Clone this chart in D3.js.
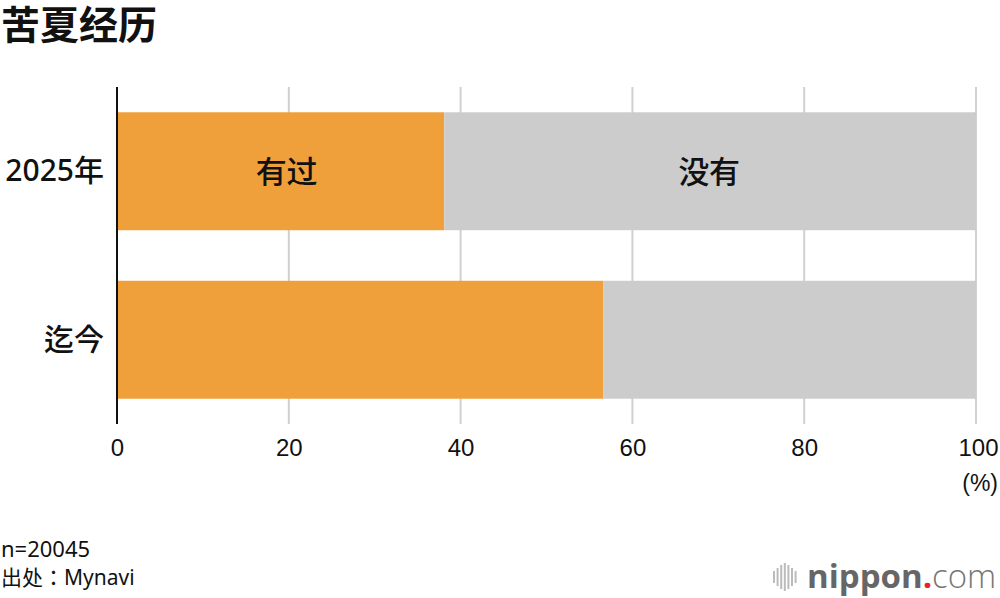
<!DOCTYPE html>
<html><head><meta charset="utf-8">
<script src="https://cdn.jsdelivr.net/npm/d3@7"></script>
<style>body{margin:0;background:#fff}svg{display:block}</style>
</head><body>
<script>
const categories = ["2025年", "迄今"];
const seriesNames = ["有过", "没有"];
const hadValues = [38.1, 56.6];
const noValues = [61.9, 43.4];
const ticks = [0, 20, 40, 60, 80, 100];
const colors = ["#F0A03A", "#CCCCCC"];

const W = 1000, H = 598;
const svg = d3.select("body").append("svg").attr("width", W).attr("height", H);
const font = "'Noto Sans','Noto Sans CJK JP',sans-serif";
const cjk = "'Noto Sans CJK JP','Noto Sans CJK SC',sans-serif";

const x = d3.scaleLinear().domain([0, 100]).range([117, 976]);
const y = d3.scaleBand().domain(categories).range([87, 424]).paddingInner(0.3).paddingOuter(0.15);

// gridlines
svg.append("g").selectAll("line").data(ticks.slice(1)).join("line")
  .attr("x1", d => x(d)).attr("x2", d => x(d)).attr("y1", 87).attr("y2", 424)
  .attr("stroke", "#d0d0d0").attr("stroke-width", 2);

const stacked = categories.map((c, i) => ({c, vals: [hadValues[i], noValues[i]]}));
stacked.forEach(s => {
  let acc = 0;
  s.vals.forEach((v, j) => {
    svg.append("rect").attr("x", x(acc)).attr("width", x(acc + v) - x(acc))
      .attr("y", y(s.c)).attr("height", y.bandwidth()).attr("fill", colors[j]);
    acc += v;
  });
});

// series labels in first bar
const first = stacked[0];
const lblY = y(first.c) + y.bandwidth() / 2 + 12;
svg.append("text").attr("x", x(first.vals[0] / 2) + 6).attr("y", lblY)
  .attr("text-anchor", "middle").attr("font-family", cjk).attr("font-size", 31).attr("font-weight", 500)
  .attr("fill", "#111").text(seriesNames[0]);
svg.append("text").attr("x", x(first.vals[0] + first.vals[1] / 2) - 1).attr("y", lblY)
  .attr("text-anchor", "middle").attr("font-family", cjk).attr("font-size", 31).attr("font-weight", 500)
  .attr("fill", "#111").text(seriesNames[1]);

// y axis line
svg.append("line").attr("x1", x(0)).attr("x2", x(0)).attr("y1", 87).attr("y2", 424)
  .attr("stroke", "#111").attr("stroke-width", 2);

// category labels
svg.append("g").selectAll("text").data(categories).join("text")
  .attr("x", 104).attr("y", d => y(d) + y.bandwidth() / 2 + 10)
  .attr("text-anchor", "end").attr("font-family", font).attr("font-size", 30).attr("font-weight", 500)
  .attr("fill", "#111").text(d => d);

// x tick labels
const xAxis = svg.append("g").attr("transform", "translate(0,424)")
  .call(d3.axisBottom(x).tickValues(ticks).tickSize(0).tickPadding(15));
xAxis.select(".domain").remove();
xAxis.selectAll("text").attr("font-family", "'Liberation Sans',Arial,sans-serif").attr("font-size", 24).attr("fill", "#111");
xAxis.selectAll(".tick").filter(d => d === 100).select("text").attr("text-anchor", "end").attr("dx", 22);
svg.append("text").attr("x", 998).attr("y", 491).attr("text-anchor", "end")
  .attr("font-family", "'Liberation Sans',Arial,sans-serif").attr("font-size", 23).attr("fill", "#111").text("(%)");

// title
svg.append("text").attr("x", 1).attr("y", 39).attr("font-family", cjk).attr("font-size", 39)
  .attr("font-weight", 700).attr("fill", "#111").text("苦夏经历");

// footer
svg.append("text").attr("x", 1).attr("y", 557).attr("font-family", font).attr("font-size", 22).attr("fill", "#111").text("n=20045");
svg.append("text").attr("x", 1).attr("y", 585).attr("font-family", font).attr("font-size", 21).attr("fill", "#111").text("出处：Mynavi");

// logo
const logo = svg.append("g");
const barH = [12, 18, 24, 28, 24, 18, 12];
barH.forEach((h, i) => {
  logo.append("rect").attr("x", 773 + i * 3.6).attr("y", 577 - h / 2).attr("width", 2).attr("height", h).attr("fill", "#bbb");
});
const lt = logo.append("text").attr("x", 807).attr("y", 588).attr("font-family", "'Open Sans','DejaVu Sans',sans-serif").attr("font-size", 33);
lt.append("tspan").attr("font-weight", 700).attr("fill", "#666").text("nippon");
lt.append("tspan").attr("fill", "#e8212a").attr("font-weight", 700).text(".");
lt.append("tspan").attr("fill", "#777").attr("font-weight", 300).text("com");
</script>
</body></html>
